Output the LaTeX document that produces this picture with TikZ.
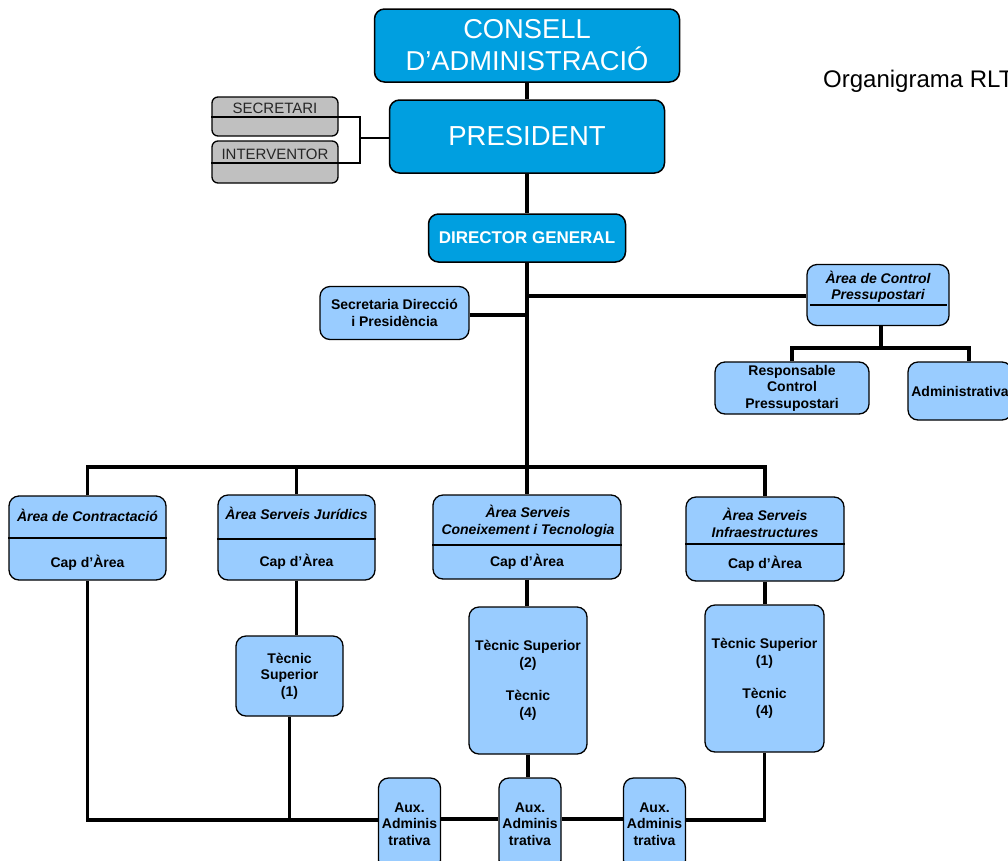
\documentclass[tikz,border=0pt]{standalone}
\usepackage{fontspec}
\setmainfont{Liberation Sans}
\usetikzlibrary{positioning}

\definecolor{topblue}{HTML}{009FE0}
\definecolor{unitblue}{HTML}{99CCFF}
\definecolor{staffgray}{HTML}{C0C0C0}

\tikzset{
  topbox/.style={draw, line width=1.5pt, rounded corners=10pt, fill=topblue, text=white, align=center, inner sep=0pt},
  unitbox/.style={draw, line width=1.3pt, rounded corners=10pt, fill=unitblue, align=center, inner sep=0pt, font=\bfseries\fontsize{14}{16.6}\selectfont},
  staffbox/.style={draw, line width=1.3pt, rounded corners=6pt, fill=staffgray, inner sep=0pt},
  stafftext/.style={inner sep=0pt, text=black!85, font=\fontsize{15}{18}\selectfont},
  unittext/.style={align=center, inner sep=0pt, font=\bfseries\fontsize{14}{16.5}\selectfont},
  areatext/.style={unittext, font=\bfseries\itshape\fontsize{14}{16.5}\selectfont},
  link/.style={line width=3.5pt},
  thinlink/.style={line width=1.2pt},
}

\begin{document}
\begin{tikzpicture}[x=1pt,y=-1pt]
\clip (0,0) rectangle (1008,860);
\fill[white] (0,0) rectangle (1008,860);

% title
\node[anchor=base west, inner sep=0pt, font=\fontsize{24}{28}\selectfont] (title) at (823,87) {Organigrama RLT};

% top of the chart
\node[topbox, minimum width=305pt, minimum height=73pt, font=\fontsize{27.3}{32}\selectfont] (consell) at (527,45.5) {CONSELL\\D’ADMINISTRACIÓ};
\node[topbox, minimum width=275pt, minimum height=73pt, font=\fontsize{27.5}{32}\selectfont] (pres) at (527,136.5) {PRESIDENT};
\node[topbox, minimum width=197pt, minimum height=48pt, font=\bfseries\fontsize{17}{20}\selectfont] (dir) at (527,238) {DIRECTOR GENERAL};
\draw[link] (consell) -- (pres);
\draw[link] (pres) -- (dir);

% secretari and interventor
\node[staffbox, minimum width=126pt, minimum height=39pt] (sec) at (275,116.5) {};
\node[stafftext] (secT) at (275,108.5) {SECRETARI};
\node[staffbox, minimum width=126pt, minimum height=42pt] (int) at (275,162) {};
\node[stafftext] (intT) at (275,154.5) {INTERVENTOR};
\coordinate (jstaff) at (360,138);
\draw[thinlink] (sec.west |- 0,117) -- (sec.east |- 0,117) -| (jstaff) |- (int.east |- 0,163) -- (int.west |- 0,163);
\draw[thinlink] (jstaff) -- (jstaff -| pres.west);

% secretaria and control
\node[unitbox, minimum width=149pt, minimum height=53pt] (sdp) at (394.5,313) {Secretaria Direcció\\i Presidència};
\coordinate (jsdp) at (527,315);
\draw[link] (sdp.east |- jsdp) -- (jsdp);

\node[unitbox, minimum width=142pt, minimum height=61pt] (ctrl) at (878,295) {};
\node[areatext] (ctrlT) at (878,287) {Àrea de Control\\Pressupostari};
\draw[thinlink] (810,305) -- (947,305);
\coordinate (jctrl) at (527,296);
\draw[link] (jctrl) -- (jctrl -| ctrl.west);

\node[unitbox, minimum width=154pt, minimum height=52pt] (resp) at (792,388) {Responsable\\Control\\Pressupostari};
\node[unitbox, minimum width=104pt, minimum height=58pt] (adm) at (960,391) {Administrativa};
\coordinate (jresp) at (881,348);
\draw[link] (ctrl.south -| jresp) -- (jresp);
\draw[link] (resp.north) |- (jresp) -| ([xshift=9pt]adm.north);

% areas
\node[unitbox, minimum width=157pt, minimum height=84pt] (contr) at (87.5,538) {};
\node[areatext] (contrT) at (87.5,515) {Àrea de Contractació};
\node[unittext] (contrC) at (87.5,563) {Cap d’Àrea};
\draw[thinlink] (contr.west |- 0,538) -- (contr.east |- 0,538);

\node[unitbox, minimum width=157pt, minimum height=85pt] (jur) at (296.5,537.5) {};
\node[areatext] (jurT) at (296.5,513) {Àrea Serveis Jurídics};
\node[unittext] (jurC) at (296.5,562) {Cap d’Àrea};
\draw[thinlink] (jur.west |- 0,539) -- (jur.east |- 0,539);

\node[unitbox, minimum width=188pt, minimum height=84pt] (coneix) at (527,537) {};
\node[areatext] (coneixT) at (528,521.5) {Àrea Serveis\\Coneixement i Tecnologia};
\node[unittext] (coneixC) at (527,562) {Cap d’Àrea};
\draw[thinlink] (coneix.west |- 0,545) -- (coneix.east |- 0,545);

\node[unitbox, minimum width=158pt, minimum height=84pt] (infra) at (765,539) {};
\node[areatext] (infraT) at (765,523) {Àrea Serveis\\Infraestructures};
\node[unittext] (infraC) at (765,564) {Cap d’Àrea};
\draw[thinlink] (infra.west |- 0,544) -- (infra.east |- 0,544);

\coordinate (bus) at (527,467);
\draw[link] (dir) -- (coneix);
\draw[link] (contr.north) |- (bus) -| (infra.north);
\draw[link] (jur.north) -- (jur.north |- bus);

% staff of the areas
\node[unitbox, minimum width=107pt, minimum height=80pt] (tec1) at (289.5,676) {Tècnic\\Superior\\(1)};
\node[unitbox, minimum width=118pt, minimum height=147pt] (tec2) at (528,680.5) {Tècnic Superior\\(2)\\~\\Tècnic\\(4)};
\node[unitbox, minimum width=119pt, minimum height=147pt] (tec3) at (764.5,678.5) {Tècnic Superior\\(1)\\~\\Tècnic\\(4)};

\foreach \n/\x in {aux1/409.5, aux2/530, aux3/654.5}
  \node[unitbox, minimum width=62pt, minimum height=92pt] (\n) at (\x,824) {Aux.\\Adminis\\trativa};

\coordinate (jaux) at ([yshift=4pt]aux1.west);
\draw[link] (jur.south) -- (jur.south |- tec1.north);
\draw[link] (coneix.south) -- (coneix.south |- tec2.north);
\draw[link] (infra.south) -- (infra.south |- tec3.north);
\draw[link] (contr.south) |- (jaux);
\draw[link] (tec1.south) -- (tec1.south |- jaux);
\draw[link] (tec2.south) -- (tec2.south |- aux2.north);
\draw[link] ([yshift=5pt]aux1.east) -- ([yshift=5pt]aux2.west);
\draw[link] ([yshift=5pt]aux2.east) -- ([yshift=5pt]aux3.west);
\draw[link] (tec3.south) |- ([yshift=4pt]aux3.east);
\end{tikzpicture}
\end{document}
